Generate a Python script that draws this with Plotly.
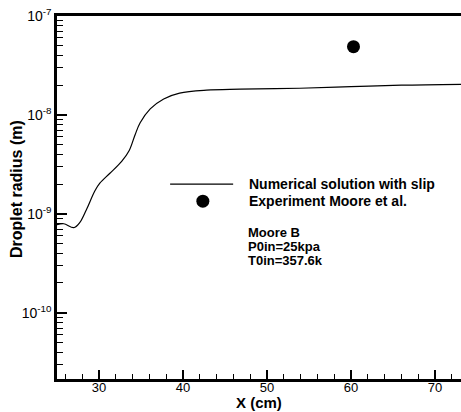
import plotly.graph_objects as go

# Numerical solution with slip
x_num = [25.0, 25.8, 27.0, 27.7, 28.5, 29.5, 30.1, 31.3, 32.7, 33.6, 34.3, 34.9,
         36.1, 37.7, 39.6, 42.8, 46.8, 53.9, 60.0, 66.0, 73.3]
r_num = [7.76e-10, 7.94e-10, 7.24e-10, 8.13e-10, 1.10e-9, 1.70e-9, 2.04e-9, 2.57e-9,
         3.39e-9, 4.37e-9, 6.31e-9, 8.32e-9, 1.15e-8, 1.45e-8, 1.66e-8, 1.78e-8,
         1.82e-8, 1.86e-8, 1.93e-8, 2.00e-8, 2.04e-8]

# Experiment Moore et al.
x_exp = [60.3]
r_exp = [4.9e-8]

y_tickvals = [1e-10, 1e-9, 1e-8, 1e-7]
y_ticktext = ["10<sup>-10</sup>", "10<sup>-9</sup>", "10<sup>-8</sup>", "10<sup>-7</sup>"]
y_minor = [m * 10.0 ** e for e in range(-11, -7) for m in range(2, 10)]

info_lines = ["Moore B", "P0in=25kpa", "T0in=357.6k"]

FONT = "Arial, Liberation Sans, sans-serif"

fig = go.Figure()
fig.add_trace(go.Scatter(x=x_num, y=r_num, mode="lines", line=dict(color="black", width=1.2, shape="spline"),
                         showlegend=False))
fig.add_trace(go.Scatter(x=x_exp, y=r_exp, mode="markers", marker=dict(color="black", size=13),
                         showlegend=False))

# Legend (manual)
fig.add_shape(type="line", xref="paper", yref="paper", x0=0.280, x1=0.436, y0=0.537, y1=0.537,
              line=dict(color="black", width=1.2))
fig.add_shape(type="circle", xref="paper", yref="paper", xsizemode="pixel", ysizemode="pixel",
              xanchor=0.361, yanchor=0.490, x0=-6.5, x1=6.5, y0=-6.5, y1=6.5,
              fillcolor="black", line=dict(color="black", width=0))
fig.add_annotation(xref="paper", yref="paper", x=0.470, y=0.537, xanchor="left", yanchor="middle",
                   text="<b>Numerical solution with slip</b>", showarrow=False,
                   font=dict(family=FONT, size=14, color="black"))
fig.add_annotation(xref="paper", yref="paper", x=0.470, y=0.490, xanchor="left", yanchor="middle",
                   text="<b>Experiment Moore et al.</b>", showarrow=False,
                   font=dict(family=FONT, size=14, color="black"))
for i, t in enumerate(info_lines):
    py = 232 + 14 * i
    fig.add_annotation(xref="paper", yref="paper", x=0.468, y=(379 - py) / 363, xanchor="left", yanchor="middle",
                       text="<b>%s</b>" % t, showarrow=False,
                       font=dict(family=FONT, size=13, color="black"))

# Axis titles
fig.add_annotation(xref="paper", yref="paper", x=0.5, y=(379 - 412) / 363, xanchor="center", yanchor="bottom",
                   text="<b>X (cm)</b>", showarrow=False, borderpad=0,
                   font=dict(family=FONT, size=15, color="black"))
fig.add_annotation(xref="paper", yref="paper", x=(16 - 57) / 404, y=(379 - 189) / 363, xanchor="center",
                   yanchor="middle", textangle=-90,
                   text="<b>Droplet radius (m)</b>", showarrow=False, font=dict(family=FONT, size=16, color="black"))

fig.update_layout(
    width=461, height=412,
    margin=dict(l=57, r=0, t=16, b=33),
    plot_bgcolor="white", paper_bgcolor="white",
    font=dict(family=FONT, size=14, color="black"),
    xaxis=dict(range=[25, 73.1], tickmode="linear", tick0=0, dtick=10,
               ticks="inside", ticklen=9, tickwidth=2, tickcolor="black",
               minor=dict(ticks="inside", dtick=2, ticklen=5, tickwidth=1.3, tickcolor="black"),
               showline=True, linecolor="black", linewidth=2.5, mirror=True,
               showgrid=False, zeroline=False, ticklabelstandoff=-5,
               tickfont=dict(size=13)),
    yaxis=dict(type="log", range=[-10.67, -7], tickmode="array",
               tickvals=y_tickvals, ticktext=y_ticktext,
               ticks="inside", ticklen=10, tickwidth=2, tickcolor="black",
               minor=dict(ticks="inside", tickvals=y_minor, ticklen=6, tickwidth=1.3, tickcolor="black"),
               showline=True, linecolor="black", linewidth=2.5,
               showgrid=False, zeroline=False,
               tickfont=dict(size=14)),
)

fig.write_html("out.html")
